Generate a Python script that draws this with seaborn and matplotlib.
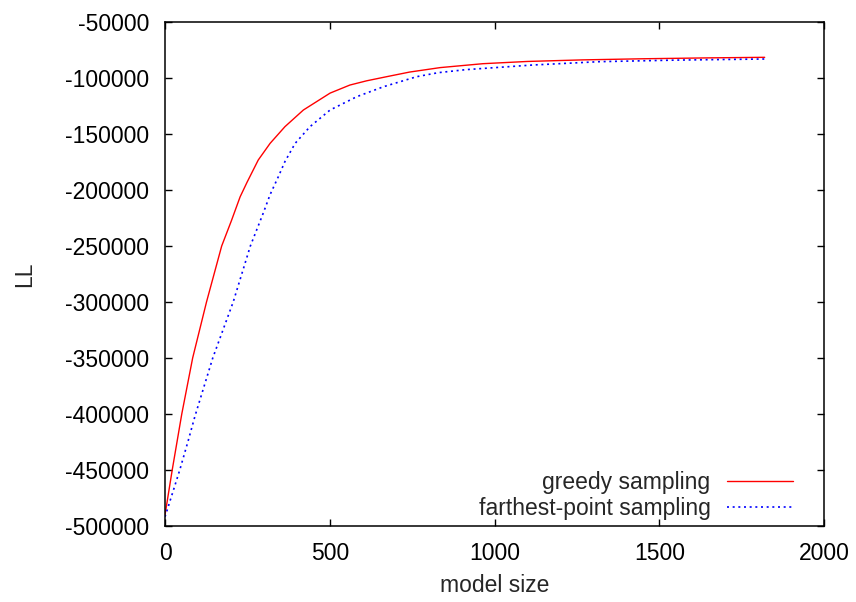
import matplotlib
matplotlib.use("Agg")
import matplotlib.pyplot as plt
import seaborn as sns
import pandas as pd

greedy_x = [0, 22, 51, 84, 126, 172, 202, 228, 249, 283, 319, 364, 420, 501, 561,
            612, 673, 742, 835, 965, 1100, 1267, 1450, 1650, 1820]
greedy_y = [-490400, -450000, -400000, -350000, -300000, -250000, -227000, -206000,
            -193000, -173100, -158200, -143300, -128400, -113300, -106100, -102300,
            -98600, -94500, -90500, -87000, -85000, -83600, -82600, -81800, -81300]

farthest_x = [0, 5, 45, 71, 91, 145, 207, 259, 298, 319, 344, 364, 395, 440, 501,
              582, 663, 764, 830, 914, 1115, 1318, 1550, 1820]
farthest_y = [-492000, -487500, -450000, -423400, -402000, -350000, -300000, -250000,
              -220700, -204000, -188000, -174500, -158200, -143300, -128400, -116500,
              -107600, -98600, -95000, -92300, -88200, -85200, -83800, -82800]

x_ticks = [0, 500, 1000, 1500, 2000]
y_ticks = [-500000, -450000, -400000, -350000, -300000, -250000, -200000, -150000,
           -100000, -50000]

sns.set_theme(style="ticks")
plt.rcParams['font.family'] = ['Liberation Sans', 'DejaVu Sans']
FS = 16.5

fig = plt.figure(figsize=(8.56, 6.02), dpi=100)
ax = fig.add_axes([165/856, (602-525.7)/602, (824-165)/856, (525.7-22.3)/602])

df_g = pd.DataFrame({"model size": greedy_x, "LL": greedy_y})
df_f = pd.DataFrame({"model size": farthest_x, "LL": farthest_y})

sns.lineplot(data=df_g, x="model size", y="LL", ax=ax, color="#ff0000",
             linewidth=1.0, label="greedy sampling")
sns.lineplot(data=df_f, x="model size", y="LL", ax=ax, color="#0000ff",
             linewidth=1.2, linestyle=(0, (1.2, 2.2)), label="farthest-point sampling")

ax.set_xlim(0, 2000)
ax.set_ylim(-500000, -50000)
ax.set_xticks(x_ticks)
ax.set_yticks(y_ticks)
ax.set_xticklabels([str(v) for v in x_ticks])
ax.set_yticklabels([str(v) for v in y_ticks])
ax.tick_params(direction="in", length=5, width=1.0, top=True, right=True,
               labelsize=FS, colors="black", pad=11.5)
for s in ax.spines.values():
    s.set_color("black")
    s.set_linewidth(1.1)
ax.set_xlabel("model size", fontsize=FS, labelpad=7)
ax.set_ylabel("LL", fontsize=FS, labelpad=21)

leg = ax.legend(loc="lower right", bbox_to_anchor=(0.953, 0.012), frameon=False,
                markerfirst=False, fontsize=FS, handlelength=2.9, handletextpad=0.7,
                labelspacing=0.12, borderpad=0, borderaxespad=0)

fig.savefig("out.png", dpi=100)
